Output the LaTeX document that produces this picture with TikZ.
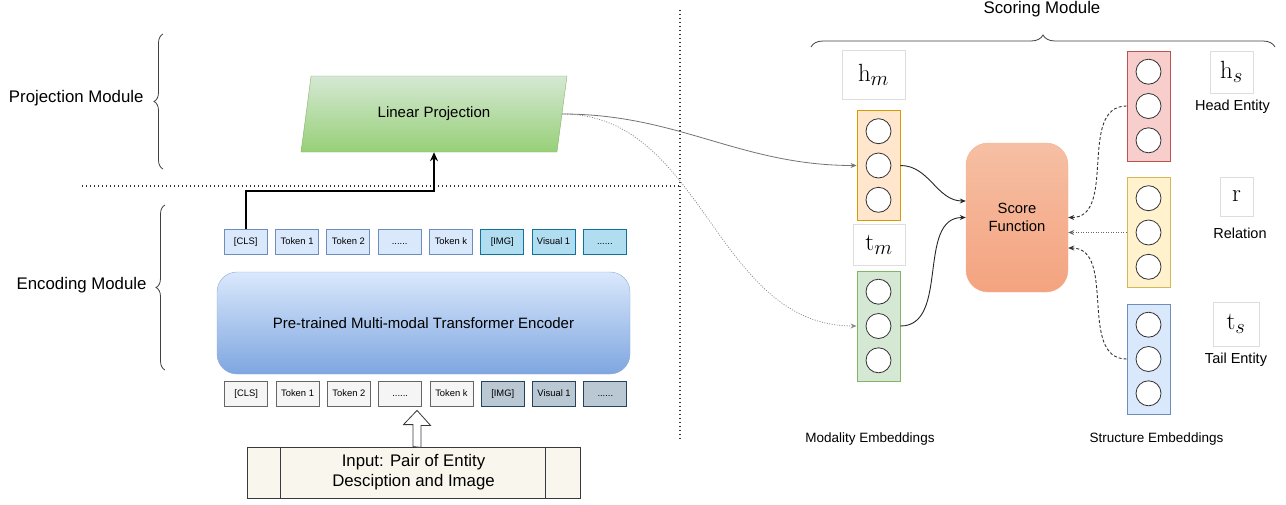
\documentclass[tikz,border=0pt]{standalone}
\usepackage{amsmath}
\usepackage[no-math]{fontspec}
\setmainfont{Liberation Sans}
\usepackage{tikz}
\usetikzlibrary{positioning}
\usetikzlibrary{shapes.geometric}
\usetikzlibrary{arrows.meta}
\usetikzlibrary{decorations.pathreplacing}

\definecolor{txtfill}{HTML}{DAE8FC}
\definecolor{txtdraw}{HTML}{6C8EBF}
\definecolor{imgfill}{HTML}{B1DDF0}
\definecolor{imgdraw}{HTML}{10739E}
\definecolor{grayfill}{HTML}{F5F5F5}
\definecolor{graydraw}{HTML}{666666}
\definecolor{slatefill}{HTML}{BAC8D3}
\definecolor{slatedraw}{HTML}{23445D}
\definecolor{greentop}{HTML}{D5E8D4}
\definecolor{greenbot}{HTML}{97D077}
\definecolor{greendraw}{HTML}{82B366}
\definecolor{enctop}{HTML}{DAE8FC}
\definecolor{encbot}{HTML}{7EA6E0}
\definecolor{encdraw}{HTML}{8FACD8}
\definecolor{inputfill}{HTML}{F9F7ED}
\definecolor{inputdraw}{HTML}{36393D}
\definecolor{scoretop}{HTML}{F6BFA4}
\definecolor{scorebot}{HTML}{F4A37F}
\definecolor{scoredraw}{HTML}{F2B296}
\definecolor{orangefill}{HTML}{FFE6CC}
\definecolor{orangedraw}{HTML}{D79B00}
\definecolor{redfill}{HTML}{F8CECC}
\definecolor{reddraw}{HTML}{B85450}
\definecolor{yellowfill}{HTML}{FFF2CC}
\definecolor{yellowdraw}{HTML}{D6B656}
\definecolor{mathdraw}{HTML}{DDDDDD}
\definecolor{circdraw}{HTML}{333333}

\begin{document}
\begin{tikzpicture}[x=1pt, y=-1pt,
                >={Stealth[length=6pt,width=5pt]},
                tokbox/.style={rectangle, draw, minimum width=43pt, minimum height=25pt, inner sep=0pt, text height=7pt, text depth=2pt, line width=0.8pt, font=\fontsize{9.4}{11}\selectfont},
                txttok/.style={tokbox, fill=txtfill, draw=txtdraw},
                imgtok/.style={tokbox, fill=imgfill, draw=imgdraw},
                graytok/.style={tokbox, fill=grayfill, draw=graydraw},
                slatetok/.style={tokbox, fill=slatefill, draw=slatedraw},
                projbox/.style={trapezium, trapezium left angle=76.7, trapezium right angle=103.3, trapezium stretches=true, minimum width=266pt, minimum height=76pt, draw=greendraw, top color=greentop, bottom color=greenbot, font=\fontsize{15}{18}\selectfont},
                encbox/.style={rectangle, rounded corners=20pt, minimum width=413pt, minimum height=102pt, draw=encdraw, top color=enctop, bottom color=encbot, font=\fontsize{15}{18}\selectfont},
                inputbox/.style={rectangle, minimum width=333pt, minimum height=51pt, draw=inputdraw, fill=inputfill, align=center, line width=0.8pt, font=\fontsize{16.8}{20}\selectfont},
                hollowarrow/.style={draw=inputdraw, fill=white, line width=0.8pt, line join=miter},
                modlabel/.style={font=\fontsize{16.8}{20}\selectfont},
                modbrace/.style={decorate, decoration={brace, amplitude=9pt}, draw=black!75, line width=0.8pt},
                sepline/.style={line width=1.2pt, dash pattern=on 1.2pt off 2.8pt, black!80},
                vecbox/.style={rectangle, minimum width=43pt, minimum height=110pt, line width=0.9pt},
                vcircle/.style={circle, draw=circdraw, fill=white, minimum size=25pt, inner sep=0pt, line width=0.8pt},
                mathbox/.style={rectangle, draw=mathdraw, fill=white, inner sep=0pt, font=\fontsize{29}{31}\selectfont},
                sidelabel/.style={font=\fontsize{14.5}{17}\selectfont},
                scorebox/.style={rectangle, rounded corners=22pt, minimum width=102pt, minimum height=149pt, draw=scoredraw, top color=scoretop, bottom color=scorebot, align=center, font=\fontsize{14.8}{18}\selectfont},
                clsline/.style={line width=2pt, >={Stealth[length=9pt,width=8pt]}},
                projcurve/.style={line width=0.8pt, black!55},
                projdotted/.style={line width=0.8pt, black!45, dash pattern=on 1pt off 1.5pt},
                embcurve/.style={line width=0.9pt, black!85},
                structdashed/.style={line width=0.9pt, black!80, dash pattern=on 3pt off 2pt},
                structdotted/.style={line width=0.8pt, black!60, dash pattern=on 1pt off 1.5pt},
            ]
            \useasboundingbox (0,0) rectangle (1286,504);

            % Nodes
            \node[projbox]      (lin_proj)      at (434,114)        {Linear Projection};
            \node[encbox]       (encoder)       at (423.5,323)      {Pre-trained Multi-modal Transformer Encoder};

            \node[txttok]       (out_cls)       at (245.75,241.5)   {[CLS]};
            \node[txttok]       (out_tok_1)     [right=7.5pt of out_cls]    {Token 1};
            \node[txttok]       (out_tok_2)     [right=7.5pt of out_tok_1]  {Token 2};
            \node[txttok]       (out_dots_1)    [right=7.5pt of out_tok_2]  {......};
            \node[txttok]       (out_tok_k)     [right=7.5pt of out_dots_1] {Token k};
            \node[imgtok]       (out_img)       [right=7.5pt of out_tok_k]  {[IMG]};
            \node[imgtok]       (out_vis_1)     [right=7.5pt of out_img]    {Visual 1};
            \node[imgtok]       (out_dots_2)    [right=7.5pt of out_vis_1]  {......};

            \node[graytok]      (in_cls)        at (246.25,393.5)   {[CLS]};
            \node[graytok]      (in_tok_1)      [right=7.5pt of in_cls]     {Token 1};
            \node[graytok]      (in_tok_2)      [right=7.5pt of in_tok_1]   {Token 2};
            \node[graytok]      (in_dots_1)     [right=7.5pt of in_tok_2]   {......};
            \node[graytok]      (in_tok_k)      [right=7.5pt of in_dots_1]  {Token k};
            \node[slatetok]     (in_img)        [right=7.5pt of in_tok_k]   {[IMG]};
            \node[slatetok]     (in_vis_1)      [right=7.5pt of in_img]     {Visual 1};
            \node[slatetok]     (in_dots_2)     [right=7.5pt of in_vis_1]   {......};

            \node[inputbox]     (input)         at (413.5,472.5)    {Input: Pair of Entity\\Desciption and Image};

            \node[modlabel, anchor=east]    (proj_label)    at (147,98)     {Projection Module};
            \node[modlabel, anchor=east]    (enc_label)     at (150,285)    {Encoding Module};
            \node[modlabel]                 (score_label)   at (1042,9)     {Scoring Module};

            \node[vecbox, fill=orangefill, draw=orangedraw] (hm_vec)    at (878.5,165.5)    {};
            \node[vcircle]      (hm_c2)     at (hm_vec)         {};
            \node[vcircle]      (hm_c1)     [above=8.5pt of hm_c2]  {};
            \node[vcircle]      (hm_c3)     [below=8.5pt of hm_c2]  {};

            \node[vecbox, fill=greentop, draw=greendraw]    (tm_vec)    at (878.5,326)      {};
            \node[vcircle]      (tm_c2)     at (tm_vec)         {};
            \node[vcircle]      (tm_c1)     [above=8.5pt of tm_c2]  {};
            \node[vcircle]      (tm_c3)     [below=8.5pt of tm_c2]  {};

            \node[vecbox, fill=redfill, draw=reddraw]       (hs_vec)    at (1148.5,106)     {};
            \node[vcircle]      (hs_c2)     at (hs_vec)         {};
            \node[vcircle]      (hs_c1)     [above=8.5pt of hs_c2]  {};
            \node[vcircle]      (hs_c3)     [below=8.5pt of hs_c2]  {};

            \node[vecbox, fill=yellowfill, draw=yellowdraw] (r_vec)     at (1148.5,232.5)   {};
            \node[vcircle]      (r_c2)      at (r_vec)          {};
            \node[vcircle]      (r_c1)      [above=8.5pt of r_c2]   {};
            \node[vcircle]      (r_c3)      [below=8.5pt of r_c2]   {};

            \node[vecbox, fill=txtfill, draw=txtdraw]       (ts_vec)    at (1148.5,359)     {};
            \node[vcircle]      (ts_c2)     at (ts_vec)         {};
            \node[vcircle]      (ts_c1)     [above=8.5pt of ts_c2]  {};
            \node[vcircle]      (ts_c3)     [below=8.5pt of ts_c2]  {};

            \node[scorebox]     (score)     at (1017,217.5)     {Score\\Function};

            \node[mathbox, minimum width=63pt, minimum height=49pt] (hm_label) at (873.5,74.5)  {$\mathrm{h}_m$};
            \node[mathbox, minimum width=52pt, minimum height=41pt] (tm_label) at (879,244.5)   {$\mathrm{t}_m$};
            \node[mathbox, minimum width=43pt, minimum height=42pt] (hs_label) at (1231.5,72)   {$\mathrm{h}_s$};
            \node[mathbox, minimum width=33pt, minimum height=39pt] (r_label)  at (1236.5,196.5) {$\mathrm{r}$};
            \node[mathbox, minimum width=46pt, minimum height=44pt] (ts_label) at (1236,324)    {$\mathrm{t}_s$};

            \node[sidelabel]    (head_text)     at (1232.5,107)     {Head Entity};
            \node[sidelabel]    (rel_text)      at (1240,233)       {Relation};
            \node[sidelabel]    (tail_text)     at (1236,360)       {Tail Entity};
            \node[font=\fontsize{13.5}{16}\selectfont] (mod_text)    at (870,439)    {Modality Embeddings};
            \node[font=\fontsize{13.5}{16}\selectfont] (struct_text) at (1156.5,439) {Structure Embeddings};

            % Braces and separators
            \draw[modbrace] (163,169) -- (163,34);
            \draw[modbrace] (165,370) -- (165,205);
            \draw[modbrace, decoration={brace, amplitude=12pt}] (811,47) -- (1275,47);
            \draw[sepline] (82,186) -- (680,186);
            \draw[sepline] (680,10) -- (680,440);

            %Lines
            \draw[->, clsline] (out_cls.north) -- ++(0,-38) -| (lin_proj.south);
            \draw[->, projcurve] (lin_proj.east) to[out=0, in=180] (hm_vec.west);
            \draw[->, projdotted] (lin_proj.east) to[out=0, in=180] (tm_vec.west);
            \draw[->, embcurve] (hm_vec.east) to[out=0, in=180] ([yshift=16.5pt]score.west);
            \draw[->, embcurve] (tm_vec.east) to[out=0, in=180] (score.west);
            \draw[->, structdashed] (hs_vec.west) to[out=180, in=0] (score.east);
            \draw[->, structdotted] (r_vec.west) -- ([yshift=-15pt]score.east);
            \draw[->, structdashed] (ts_vec.west) to[out=180, in=0] ([yshift=-30.5pt]score.east);

            % Input arrow
            \coordinate (arrow_base) at (input.north -| 417,0);
            \coordinate (arrow_tip) at ([yshift=-4pt]in_dots_1.south -| 417,0);
            \draw[hollowarrow] ([xshift=-4pt]arrow_base) -- ++(0,-22) -- ++(-9.5,0) -- (arrow_tip)
                -- ++(13.5,15) -- ++(-9.5,0) -- ++(0,22) -- cycle;

            \draw[inputdraw, line width=0.8pt] ([xshift=34pt]input.north west) -- ([xshift=34pt]input.south west);
            \draw[inputdraw, line width=0.8pt] ([xshift=-35pt]input.north east) -- ([xshift=-35pt]input.south east);
        \end{tikzpicture}
\end{document}
